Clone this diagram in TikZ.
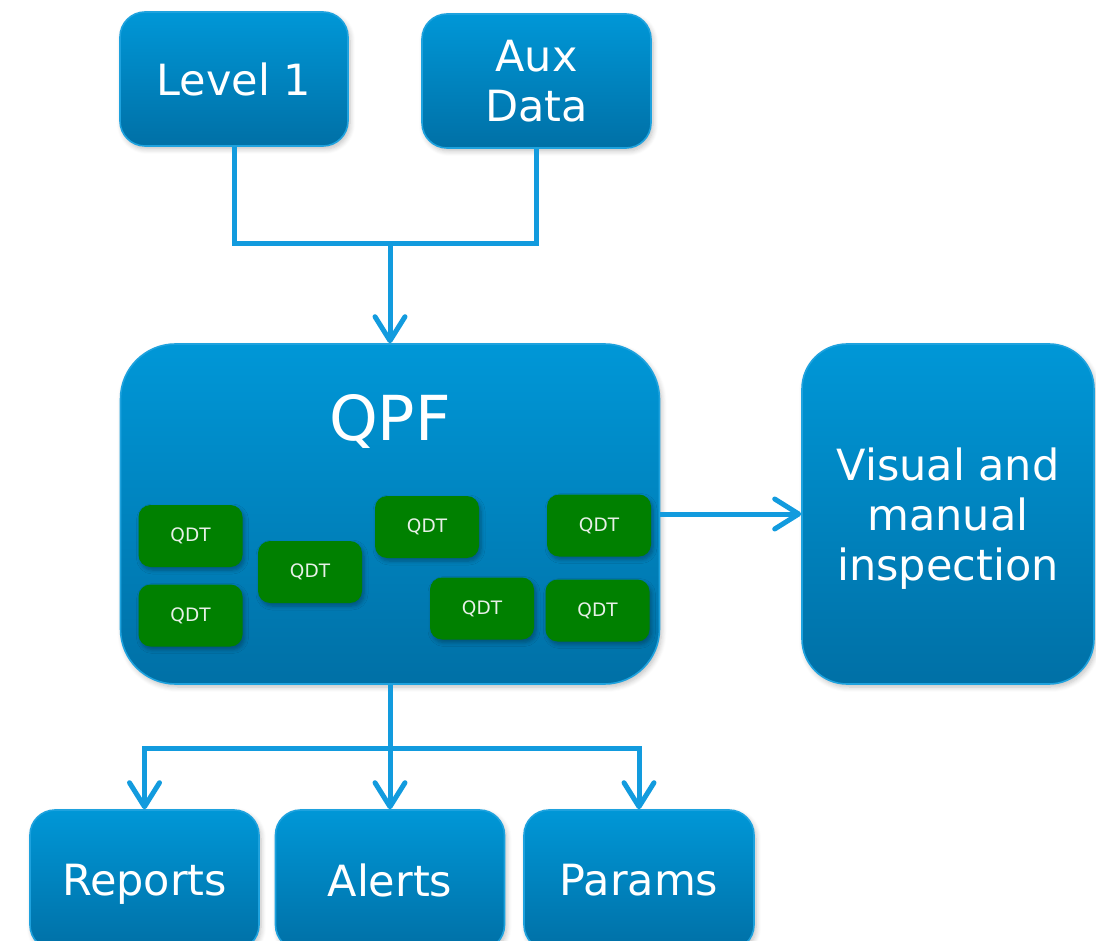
\documentclass[tikz,border=0pt]{standalone}
\usepackage{fontspec}
\setmainfont{DejaVu Sans}
\usetikzlibrary{arrows.meta,shadows.blur}
\definecolor{boxtop}{RGB}{0,151,215}
\definecolor{boxbot}{RGB}{0,112,166}
\definecolor{boxline}{RGB}{30,162,222}
\definecolor{conncol}{RGB}{18,155,222}
\definecolor{qdtgreen}{RGB}{0,128,0}
\definecolor{qdttext}{RGB}{232,240,232}
\tikzset{
  bluebox/.style={draw=boxline, line width=1.6pt, top color=boxtop, bottom color=boxbot,
    text=white, align=center, inner sep=0pt, text depth=0pt, font=\fontsize{43}{50}\selectfont,
    blur shadow={shadow blur steps=6, shadow xshift=2pt, shadow yshift=-3pt, shadow opacity=25, shadow blur radius=5pt}},
  qdtbox/.style={fill=qdtgreen, rounded corners=12pt, minimum width=104pt, minimum height=62pt,
    text=qdttext, inner sep=0pt, font=\fontsize{18.5}{20}\selectfont,
    blur shadow={shadow blur steps=5, shadow xshift=2pt, shadow yshift=-3pt, shadow opacity=30, shadow blur radius=4pt}},
  conn/.style={draw=conncol, line width=5pt},
  arr/.style={conn, -{Straight Barb[length=24pt, width=30pt, line width=5pt, round]}},
}
\begin{document}
\begin{tikzpicture}[x=1pt, y=-1pt]
\useasboundingbox (0,0) rectangle (1096,941);
\clip (0,0) rectangle (1096,941);
% top boxes
\node[bluebox, rounded corners=25pt, minimum width=228pt, minimum height=134pt] (l1) at (234,79) {Level 1};
\node[bluebox, rounded corners=25pt, minimum width=229pt, minimum height=134pt] (aux) at (536.5,81) {Aux\\Data};
% QPF
\node[bluebox, rounded corners=55pt, minimum width=539pt, minimum height=340pt] (qpf) at (390,514) {};
\node[text=white, font=\fontsize{62}{70}\selectfont, inner sep=0pt] (qpft) at (390,421) {QPF};
% inspection
\node[bluebox, rounded corners=45pt, minimum width=292pt, minimum height=340pt] (vis) at (948,514) {Visual and\\manual\\inspection};
% QDTs
\node[qdtbox] (q1) at (190.5,536) {QDT};
\node[qdtbox] (q2) at (190.5,615.5) {QDT};
\node[qdtbox] (q3) at (310,572) {QDT};
\node[qdtbox] (q4) at (427,527) {QDT};
\node[qdtbox] (q5) at (482,608.5) {QDT};
\node[qdtbox] (q6) at (599,525.5) {QDT};
\node[qdtbox] (q7) at (597.5,610.5) {QDT};
% bottom boxes
\node[bluebox, rounded corners=25pt, minimum width=229pt, minimum height=140pt] (rep) at (144.5,880) {Reports};
\node[bluebox, rounded corners=25pt, minimum width=229pt, minimum height=140pt] (alr) at (390,880) {Alerts};
\node[bluebox, rounded corners=25pt, minimum width=230pt, minimum height=140pt] (par) at (639,880) {Params};
% connectors
\coordinate (jt) at (390,244);
\coordinate (jb) at (390,748);
\draw[conn] (l1.south) |- (jt) -| (aux.south);
\draw[arr] (jt) -- (qpf.north);
\draw[arr] (qpf.east) -- (vis.west);
\draw[conn] (qpf.south) -- (jb);
\draw[arr] (jb) -| (rep.north);
\draw[arr] (jb) -- (alr.north);
\draw[arr] (jb) -| (par.north);
\end{tikzpicture}
\end{document}
